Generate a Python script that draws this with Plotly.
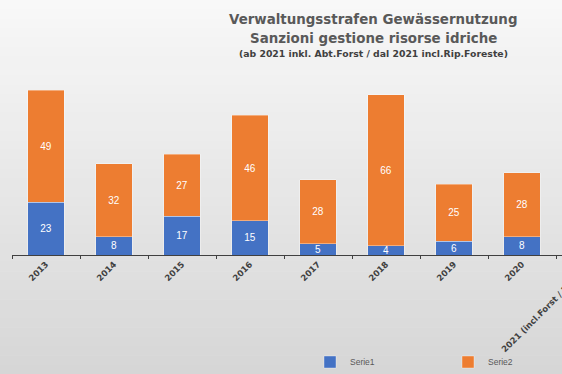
import plotly.graph_objects as go

# ---- data ----
years = ["2013", "2014", "2015", "2016", "2017", "2018", "2019", "2020",
         "2021 (incl.Forst / Foreste)"]
serie1 = [23, 8, 17, 15, 5, 4, 6, 8, None]
serie2 = [49, 32, 27, 46, 28, 66, 25, 28, None]

title1 = "Verwaltungsstrafen Gewässernutzung"
title2 = "Sanzioni gestione risorse idriche"
title3 = "(ab 2021 inkl. Abt.Forst / dal 2021 incl.Rip.Foreste)"

# ---- geometry (full original chart is wider than the visible window) ----
W, H = 746, 374
ML, MR, MT, MB = 12, 122, 72, 119
PW = W - ML - MR
PH = H - MT - MB


def px(x):
    return (x - ML) / PW


def py(y):
    return (H - MB - y) / PH


BLUE = "#4472C4"
ORANGE = "#ED7D31"

fig = go.Figure()
for name, vals, col in (("Serie1", serie1, BLUE), ("Serie2", serie2, ORANGE)):
    fig.add_trace(go.Bar(
        x=years, y=vals, name=name,
        marker=dict(color=col, line=dict(color="rgba(255,255,255,0.45)", width=0.8)),
        texttemplate="%{y}", textposition="inside", insidetextanchor="middle",
        textangle=0,
        textfont=dict(color="white", size=10, family="Liberation Sans"),
        hoverinfo="x+y",
    ))

# background gradient (light top -> darker bottom)
shapes = []
N = 40
top, bot = 248, 214
for i in range(N):
    y0 = i * H / N
    y1 = (i + 1) * H / N
    c = round(top + (bot - top) * (i + 0.5) / N)
    shapes.append(dict(
        type="rect", xref="paper", yref="paper", layer="below",
        x0=px(0), x1=px(W), y0=py(y1 + 0.5), y1=py(y0),
        fillcolor=f"rgb({c},{c},{c})", line=dict(width=0),
    ))

annotations = [
    dict(text=title1, x=px(373), y=py(20), xref="paper", yref="paper",
         showarrow=False, xanchor="center", yanchor="middle",
         font=dict(family="DejaVu Sans", size=13.4, color="#595959", weight="bold")),
    dict(text=title2, x=px(373), y=py(38), xref="paper", yref="paper",
         showarrow=False, xanchor="center", yanchor="middle",
         font=dict(family="DejaVu Sans", size=13.4, color="#595959", weight="bold")),
    dict(text=title3, x=px(373), y=py(54), xref="paper", yref="paper",
         showarrow=False, xanchor="center", yanchor="middle",
         font=dict(family="DejaVu Sans", size=9.3, color="#404040", weight="bold")),
]

fig.update_layout(
    width=W, height=H,
    margin=dict(l=ML, r=MR, t=MT, b=MB, pad=0, autoexpand=False),
    barmode="stack", bargap=0.46,
    paper_bgcolor="rgb(247,247,247)",
    plot_bgcolor="rgba(0,0,0,0)",
    showlegend=True,
    legend=dict(orientation="h", x=px(310), y=py(362), xanchor="left", yanchor="middle",
                font=dict(family="Liberation Sans", size=8.5, color="#595959"),
                bgcolor="rgba(0,0,0,0)", entrywidth=93, entrywidthmode="pixels",
                traceorder="normal"),
    uniformtext=dict(minsize=10, mode="show"),
    shapes=shapes,
    annotations=annotations,
    xaxis=dict(type="category", categoryorder="array", categoryarray=years,
               range=[-0.5, len(years) - 0.5], automargin=False,
               showline=True, linecolor="#404040", linewidth=1,
               ticks="outside", tickson="boundaries", ticklen=3, tickcolor="#404040",
               tickangle=-45, showgrid=False, zeroline=False,
               tickfont=dict(family="DejaVu Sans", size=8.5, color="#404040", weight="bold")),
    yaxis=dict(range=[0, 80], showticklabels=False, showgrid=False, automargin=False,
               zeroline=False, showline=False, ticks=""),
)

fig.write_html(
    "out.html",
    config={"displayModeBar": False},
    post_script="document.body.style.margin='0';document.body.style.overflow='hidden';"
                "document.documentElement.style.overflow='hidden';",
)
